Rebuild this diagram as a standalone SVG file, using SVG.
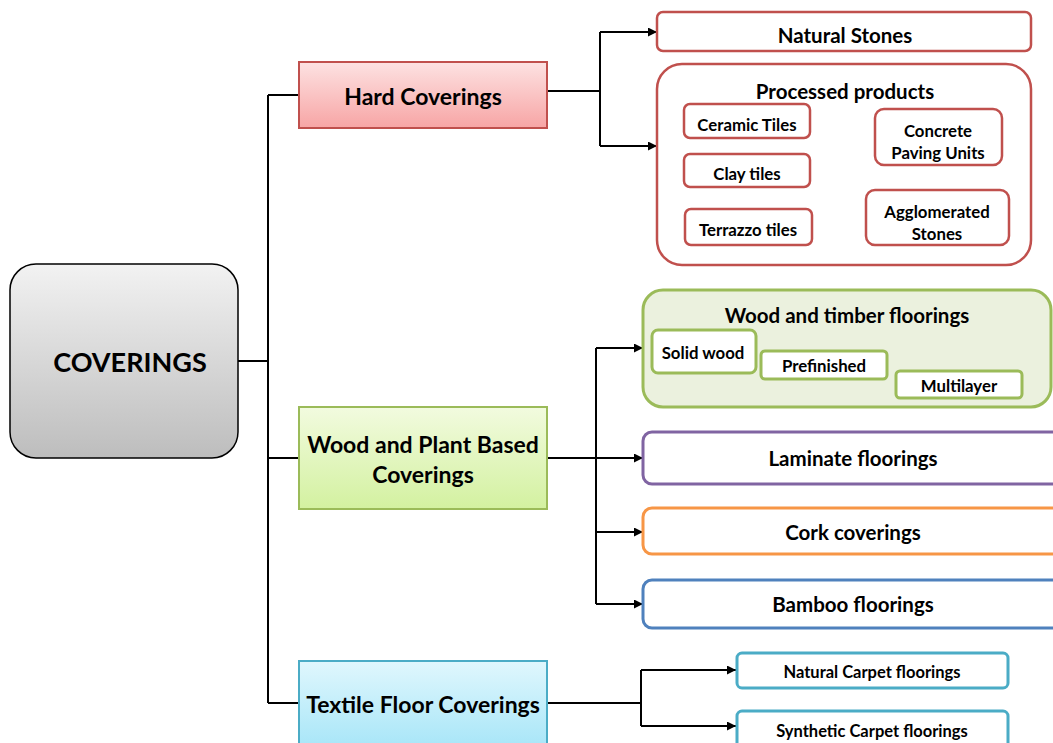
<svg xmlns="http://www.w3.org/2000/svg" width="1053" height="743" viewBox="0 0 1053 743">
<defs>
<linearGradient id="gGray" x1="0" y1="0" x2="0" y2="1"><stop offset="0" stop-color="#f2f2f2"/><stop offset="1" stop-color="#bdbdbd"/></linearGradient>
<linearGradient id="gRed" x1="0" y1="0" x2="0" y2="1"><stop offset="0" stop-color="#fde2e2"/><stop offset="1" stop-color="#f7a5a5"/></linearGradient>
<linearGradient id="gGreen" x1="0" y1="0" x2="0" y2="1"><stop offset="0" stop-color="#f2fbdf"/><stop offset="1" stop-color="#d3f1a0"/></linearGradient>
<linearGradient id="gBlue" x1="0" y1="0" x2="0" y2="1"><stop offset="0" stop-color="#e0f7fd"/><stop offset="1" stop-color="#9fe3f7"/></linearGradient>
<marker id="arr" viewBox="0 0 10 10" refX="10" refY="5" markerWidth="10" markerHeight="9" markerUnits="userSpaceOnUse" orient="auto"><path d="M0,0 L10,5 L0,10 z" fill="#000"/></marker>
</defs>
<style>
text{font-family:Lato,"Liberation Sans",Arial,sans-serif;font-weight:bold;fill:#000;text-anchor:middle;dominant-baseline:central}
.conn{fill:none;stroke:#000;stroke-width:2}
.red{fill:#fff;stroke:#c0504d;stroke-width:2.5}
.grn{fill:#fff;stroke:#9bbb59;stroke-width:3}
.t18{font-size:20.5px}
.t15{font-size:16.8px}
.t14{font-size:16.5px}
.t20{font-size:23px}
</style>
<g id="connectors">
<path class="conn" d="M238,361 H268 M268,95 V703 M268,95 H300 M268,458 H300 M268,703 H300"/>
<path class="conn" d="M547,91 H600 M600,32 V146"/>
<path class="conn" d="M600,32 H657" marker-end="url(#arr)"/>
<path class="conn" d="M600,146 H657" marker-end="url(#arr)"/>
<path class="conn" d="M547,458 H596 M596,348 V604"/>
<path class="conn" d="M596,348 H643" marker-end="url(#arr)"/>
<path class="conn" d="M596,458 H643" marker-end="url(#arr)"/>
<path class="conn" d="M596,532 H643" marker-end="url(#arr)"/>
<path class="conn" d="M596,604 H643" marker-end="url(#arr)"/>
<path class="conn" d="M547,703 H641 M641,670 V726"/>
<path class="conn" d="M641,670 H736" marker-end="url(#arr)"/>
<path class="conn" d="M641,726 H736" marker-end="url(#arr)"/>
</g>
<g id="coverings">
<rect x="10" y="264" width="228" height="194" rx="26" fill="url(#gGray)" stroke="#000" stroke-width="1.5"/>
<text x="130" y="361" style="font-size:27px">COVERINGS</text>
</g>
<g id="hard">
<rect x="299" y="62" width="248" height="66" fill="url(#gRed)" stroke="#c0504d" stroke-width="2"/>
<text x="423" y="96" class="t20">Hard Coverings</text>
</g>
<g id="natural-stones">
<rect x="657" y="12" width="374" height="39" rx="6" class="red"/>
<text x="845" y="35" class="t18">Natural Stones</text>
</g>
<g id="processed">
<rect x="657" y="64" width="374" height="201" rx="25" class="red"/>
<text x="845" y="91" class="t18">Processed products</text>
</g>
<g id="ceramic"><rect x="684" y="104" width="126" height="34" rx="6" class="red"/><text x="747" y="124" class="t15">Ceramic Tiles</text></g>
<g id="clay"><rect x="684" y="154" width="126" height="33" rx="6" class="red"/><text x="747" y="173" class="t15">Clay tiles</text></g>
<g id="terrazzo"><rect x="685" y="209" width="127" height="36" rx="6" class="red"/><text x="748" y="229" class="t15">Terrazzo tiles</text></g>
<g id="concrete"><rect x="875" y="109" width="127" height="56" rx="9" class="red"/><text x="938" y="130" class="t15">Concrete</text><text x="938" y="152" class="t15">Paving Units</text></g>
<g id="agglomerated"><rect x="866" y="190" width="143" height="55" rx="9" class="red"/><text x="937" y="211" class="t15">Agglomerated</text><text x="937" y="233" class="t15">Stones</text></g>
<g id="wood-plant">
<rect x="299" y="407" width="248" height="102" fill="url(#gGreen)" stroke="#9bbb59" stroke-width="2"/>
<text x="423" y="444" class="t20">Wood and Plant Based</text>
<text x="423" y="474" class="t20">Coverings</text>
</g>
<g id="wood-timber">
<rect x="643" y="290" width="408" height="117" rx="20" fill="#ebf1de" stroke="#9bbb59" stroke-width="3"/>
<text x="847" y="315" class="t18">Wood and timber floorings</text>
</g>
<g id="solid"><rect x="652" y="330" width="104" height="43" rx="6" class="grn"/><text x="703" y="352" class="t15">Solid wood</text></g>
<g id="prefinished"><rect x="761" y="351" width="126" height="28" rx="4" class="grn"/><text x="824" y="365" class="t15">Prefinished</text></g>
<g id="multilayer"><rect x="896" y="371" width="126" height="27" rx="4" class="grn"/><text x="959" y="385" class="t15">Multilayer</text></g>
<g id="laminate"><rect x="643" y="432" width="430" height="52" rx="9" fill="#fff" stroke="#8064a2" stroke-width="3"/><text x="853" y="458" class="t18">Laminate floorings</text></g>
<g id="cork"><rect x="643" y="508" width="430" height="46" rx="9" fill="#fff" stroke="#f79646" stroke-width="3"/><text x="853" y="532" class="t18">Cork coverings</text></g>
<g id="bamboo"><rect x="643" y="580" width="430" height="48" rx="9" fill="#fff" stroke="#4f81bd" stroke-width="3"/><text x="853" y="604" class="t18">Bamboo floorings</text></g>
<g id="textile">
<rect x="299" y="661" width="248" height="100" fill="url(#gBlue)" stroke="#4bacc6" stroke-width="2"/>
<text x="423" y="704" class="t20">Textile Floor Coverings</text>
</g>
<g id="natural-carpet"><rect x="737" y="653" width="271" height="35" rx="5" fill="#fff" stroke="#4bacc6" stroke-width="3"/><text x="872" y="672" class="t14">Natural Carpet floorings</text></g>
<g id="synthetic-carpet"><rect x="737" y="711" width="271" height="40" rx="5" fill="#fff" stroke="#4bacc6" stroke-width="3"/><text x="872" y="731" class="t14">Synthetic Carpet floorings</text></g>
</svg>
